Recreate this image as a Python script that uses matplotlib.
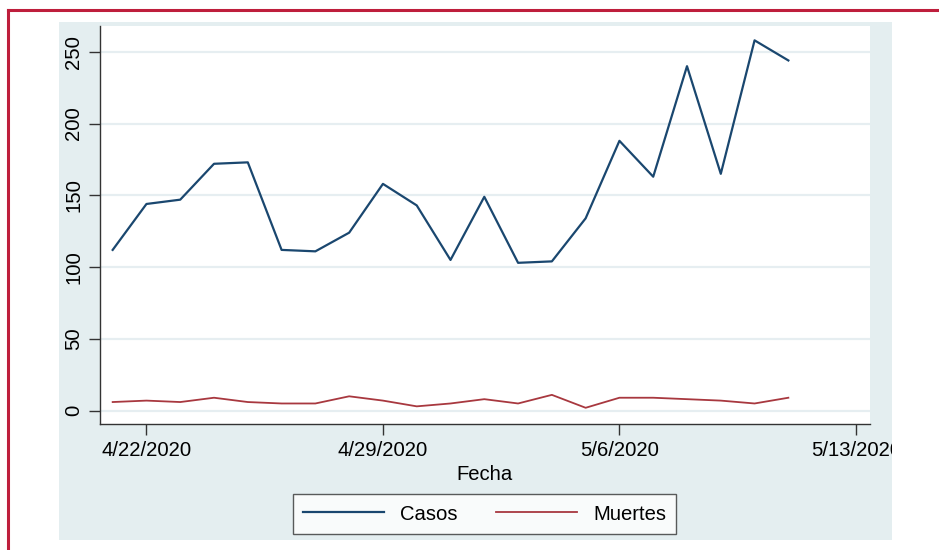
import numpy as np
import matplotlib
matplotlib.use("Agg")
import matplotlib.pyplot as plt
from matplotlib.patches import Rectangle
from matplotlib.lines import Line2D

# daily data, 4/21/2020 - 5/11/2020
fechas = np.arange(np.datetime64("2020-04-21"), np.datetime64("2020-05-12"))
casos = [112, 144, 147, 172, 173, 112, 111, 124, 158, 143, 105,
         149, 103, 104, 134, 188, 163, 240, 165, 258, 244]
muertes = [6, 7, 6, 9, 6, 5, 5, 10, 7, 3, 5,
           8, 5, 11, 2, 9, 9, 8, 7, 5, 9]

xtick_dates = np.array(["2020-04-22", "2020-04-29", "2020-05-06", "2020-05-13"], dtype="datetime64[D]")
xtick_labels = ["4/22/2020", "4/29/2020", "5/6/2020", "5/13/2020"]
ytick_vals = [0, 50, 100, 150, 200, 250]

W, H = 939, 550
plt.rcParams["font.family"] = ["Liberation Sans", "DejaVu Sans"]
FS = 14.6

fig = plt.figure(figsize=(W / 100, H / 100), dpi=100)
fig.patch.set_facecolor("white")

def fx(px):
    return px / W

def fy(py):
    return 1 - py / H

# graph region background (stata s2color look)
bg = "#E4EEF0"
fig.patches.append(Rectangle((fx(59), fy(540)), fx(892 - 59), (540 - 22) / H,
                             transform=fig.transFigure, facecolor=bg, edgecolor="none", zorder=-10))

ax = fig.add_axes([fx(100), fy(424), fx(870 - 100), (424 - 26) / H])
ax.set_facecolor("white")

ax.plot(fechas, casos, color="#1A476F", lw=1.6, label="Casos")
ax.plot(fechas, muertes, color="#A8383F", lw=1.3, label="Muertes")

d0 = np.datetime64("2020-04-22")
ax.set_xlim(d0 - np.timedelta64(33, "h"), np.datetime64("2020-05-13") + np.timedelta64(10, "h"))
ax.set_ylim(-9.3, 268)

ax.set_yticks(ytick_vals)
ax.set_yticklabels([str(v) for v in ytick_vals], rotation=90, va="center", fontsize=FS)
ax.set_xticks(xtick_dates)
ax.set_xticklabels(xtick_labels, fontsize=FS)
ax.tick_params(axis="y", length=8, width=1, color="#333333", pad=4)
ax.tick_params(axis="x", length=8, width=1, color="#333333", pad=4)
ax.grid(axis="y", color="#E6EEF1", lw=1.6)
ax.grid(axis="x", visible=False)
ax.set_axisbelow(True)

for s in ["top", "right"]:
    ax.spines[s].set_visible(False)
for s in ["left", "bottom"]:
    ax.spines[s].set_color("#333333")
    ax.spines[s].set_linewidth(1.0)

ax.set_xlabel("Fecha", fontsize=FS, labelpad=4)

leg = fig.legend(loc="center", bbox_to_anchor=(fx(484.5), fy(514)), ncol=2,
                 fontsize=FS, frameon=True, fancybox=False, handlelength=4.0,
                 columnspacing=1.9, handletextpad=0.8, borderpad=0.5)
leg.get_frame().set_edgecolor("#333333")
leg.get_frame().set_linewidth(1.0)

# crop of the right edge
fig.patches.append(Rectangle((fx(892), 0), fx(W - 892), fy(20), transform=fig.transFigure,
                             facecolor="white", edgecolor="none", zorder=20))

# crimson frame (top and left)
fig.lines.append(Line2D([fx(8), 1], [fy(10), fy(10)], transform=fig.transFigure,
                        color="#BE1E3C", lw=2.2, zorder=30))
fig.lines.append(Line2D([fx(8), fx(8)], [0, fy(10)], transform=fig.transFigure,
                        color="#BE1E3C", lw=2.2, zorder=30))

fig.savefig("out.png", dpi=100)
